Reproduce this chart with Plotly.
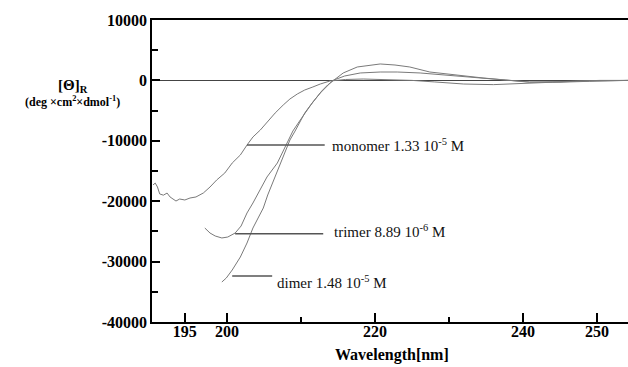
import plotly.graph_objects as go

# ---- data ----
mono_wl = [190.0, 190.3, 190.6, 190.9, 191.4, 191.9, 192.3, 193.1, 193.6, 194.3, 195.0, 195.8,
           196.8, 197.7, 198.6, 199.7, 200.7, 201.8, 202.7, 203.5, 204.5, 205.4, 206.5, 207.6,
           208.5, 209.5, 210.5, 211.6, 212.6, 213.9, 216.0, 218.4, 221.0, 225.0, 228.0, 232.0,
           236.0, 240.0, 244.0, 248.0, 252.0, 254.2]
mono_val = [-17300, -17000, -17650, -18800, -19000, -18650, -19300, -19970, -19640, -19800, -19470, -19300,
            -18640, -17650, -16490, -15330, -13680, -12350, -10700, -9370, -8210, -6890, -5400, -4070,
            -3080, -2250, -1590, -1090, -600, -100, 150, 230, 150, 0, -250, -600,
            -700, -550, -300, -100, 0, 0]

trim_wl = [197.0, 197.7, 198.4, 199.3, 200.1, 201.1, 201.9, 202.7, 203.5, 204.5, 205.4, 206.8,
           208.1, 208.9, 209.9, 210.8, 211.6, 212.6, 213.5, 214.3, 215.9, 218.0, 220.7, 223.0,
           226.1, 229.7, 234.2, 238.2, 240.9, 245.0, 249.0, 254.2]
trim_val = [-24440, -25270, -25760, -26090, -25930, -25270, -24110, -21950, -20300, -18150, -15990, -13680,
            -10360, -8380, -6560, -4900, -3580, -2090, -930, 0, 730, 1230, 1390, 1390,
            1230, 900, 400, 0, -300, -300, -150, 0]

dim_wl = [199.3, 199.9, 200.7, 201.8, 202.7, 203.5, 204.2, 204.9, 205.5, 206.2, 206.9, 207.6,
          208.5, 209.2, 209.9, 210.5, 211.2, 212.0, 212.8, 213.6, 214.5, 215.7, 217.6, 219.3,
          220.7, 222.7, 224.7, 227.4, 230.8, 234.6, 237.6, 240.9, 245.0, 250.4, 254.2]
dim_val = [-33380, -32720, -31390, -29240, -26920, -24440, -22780, -21130, -18970, -16820, -14830, -12680,
           -9870, -8380, -6890, -5400, -4240, -2910, -1760, -760, 70, 1230, 2220, 2550,
           2720, 2550, 2220, 1390, 900, 400, 70, -260, -200, 0, 0]

label_texts = ["monomer 1.33 10<sup>-5</sup> M", "trimer 8.89 10<sup>-6</sup> M", "dimer 1.48 10<sup>-5</sup> M"]
label_line_x0 = [202.7, 201.1, 200.7]
label_line_x1 = [213.2, 213.0, 206.1]
label_y = [-10700, -25400, -32400]
label_text_x = [213.9, 214.2, 206.5]
label_text_y = [-10700, -25000, -33400]

x_tickvals = [194.3, 200, 220, 240, 250]
x_ticktext = ["195", "200", "220", "240", "250"]
x_minor = [210, 230]
y_tickvals = [10000, 0, -10000, -20000, -30000, -40000]
y_ticktext = ["10000", "0", "-10000", "-20000", "-30000", "-40000"]

SERIF = "Liberation Serif, Times New Roman, serif"

fig = go.Figure()
curve_style = dict(color="#7a7a7a", width=1)
for wl, val, nm in [(mono_wl, mono_val, "monomer"), (trim_wl, trim_val, "trimer"), (dim_wl, dim_val, "dimer")]:
    fig.add_trace(go.Scatter(x=wl, y=val, mode="lines", line=curve_style, name=nm, showlegend=False))

for x0, x1, y, tx, ty, t in zip(label_line_x0, label_line_x1, label_y, label_text_x, label_text_y, label_texts):
    fig.add_trace(go.Scatter(x=[x0, x1], y=[y, y], mode="lines",
                             line=dict(color="#555555", width=1.5), showlegend=False))
    fig.add_annotation(x=tx, y=ty, xref="x", yref="y", text=t, showarrow=False,
                       xanchor="left", yanchor="middle",
                       font=dict(family=SERIF, size=15, color="#111"))

tickfont = dict(family=SERIF, size=16, color="black", weight="bold")

fig.update_layout(
    width=628, height=367,
    margin=dict(l=152, r=0, t=20, b=45),
    paper_bgcolor="white", plot_bgcolor="white",
    font=dict(family=SERIF),
    xaxis=dict(range=[189.86, 254.19], tickmode="array", tickvals=x_tickvals, ticktext=x_ticktext,
               ticks="inside", ticklen=9, tickwidth=1.5, tickcolor="black",
               showline=True, linecolor="black", linewidth=1.5, mirror=True,
               showgrid=False, zeroline=False, tickfont=tickfont, ticklabelstandoff=-6,
               minor=dict(tickmode="array", tickvals=x_minor, ticks="inside", ticklen=5,
                          tickwidth=1.5, tickcolor="black", showgrid=False)),
    yaxis=dict(range=[-40000, 10000], tickmode="array", tickvals=y_tickvals, ticktext=y_ticktext,
               ticks="inside", ticklen=8, tickwidth=1.5, tickcolor="black",
               showline=True, linecolor="black", linewidth=1.5, mirror=False,
               showgrid=False, zeroline=True, zerolinecolor="#444444", zerolinewidth=1,
               tickfont=tickfont, ticklabelstandoff=0,
               minor=dict(dtick=5000, tick0=0, ticks="inside", ticklen=6, tickwidth=1.5,
                          tickcolor="black", showgrid=False)),
)

# axis titles
fig.add_annotation(x=(392 - 152) / 476, y=(322 - 355) / 302, xref="paper", yref="paper",
                   text="<b>Wavelength[nm]</b>", showarrow=False, xanchor="center", yanchor="middle",
                   font=dict(family=SERIF, size=16, color="black"))
fig.add_annotation(x=(73 - 152) / 476, y=(322 - 86) / 302, xref="paper", yref="paper",
                   text="<b>[Θ]<sub>R</sub></b>", showarrow=False, xanchor="center", yanchor="middle",
                   font=dict(family=SERIF, size=15, color="black"))
fig.add_annotation(x=(72 - 152) / 476, y=(322 - 101) / 302, xref="paper", yref="paper",
                   text="<b>(deg ×cm<sup>2</sup>×dmol<sup>-1</sup>)</b>", showarrow=False,
                   xanchor="center", yanchor="middle",
                   font=dict(family=SERIF, size=12, color="black"))

fig.write_html("out.html", config={"displayModeBar": False},
               post_script="document.body.style.margin='0';")
